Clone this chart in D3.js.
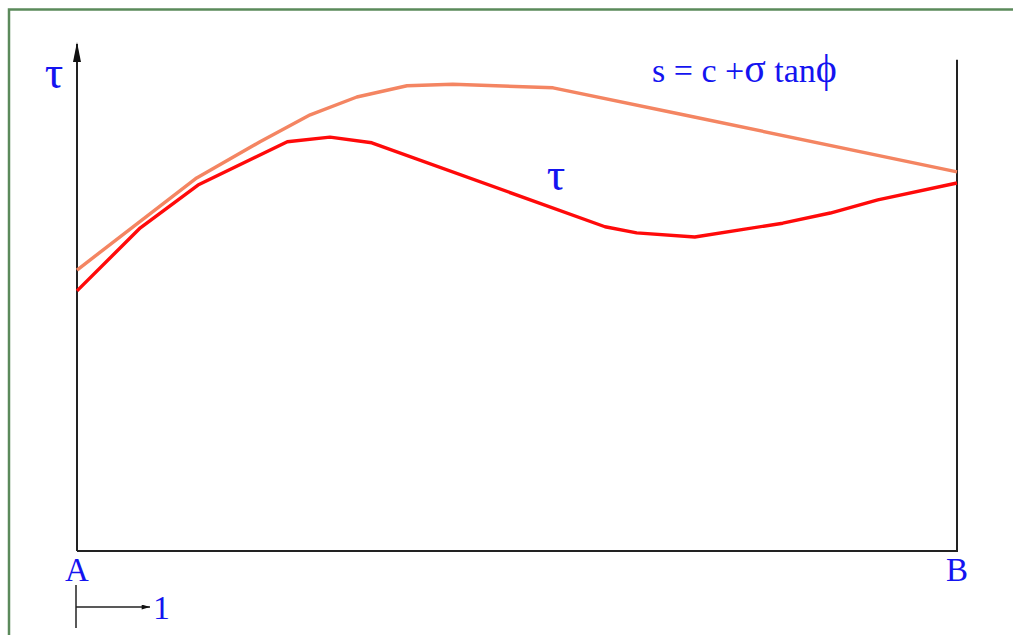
<!DOCTYPE html>
<html>
<head>
<meta charset="utf-8">
<script src="https://cdn.jsdelivr.net/npm/d3@7"></script>
<style>
  html, body { margin: 0; padding: 0; background: #fff; }
  svg { display: block; }
  text { font-family: "Liberation Serif", "DejaVu Serif", serif; fill: #1414f0; }
</style>
</head>
<body>
<svg id="chart" width="1013" height="635"></svg>
<script>
// Distance along the slip surface from A (0) to B (100)
const strengthX = [0, 13.6, 20.8, 26.5, 31.8, 37.5, 42.7, 54.1, 68.9, 100];
// Shear strength s = c + σ tanφ
const strengthY = [5.52, 7.33, 8.04, 8.57, 8.92, 9.14, 9.17, 9.10, 8.57, 7.45];

const stressX = [0, 7.2, 13.75, 23.9, 28.75, 33.5, 60.0, 63.6, 70.2, 80.2, 85.6, 91.0, 100];
// Mobilised shear stress τ
const stressY = [5.11, 6.35, 7.19, 8.04, 8.13, 8.02, 6.37, 6.25, 6.17, 6.44, 6.64, 6.90, 7.23];

const endLabels = ["A", "B"];
// strength label split into plain and Greek runs
const strengthParts = [
  { t: "s = c +", greek: false },
  { t: "σ", greek: true },
  { t: " tan", greek: false },
  { t: "ϕ", greek: true }
];
const stressLabel = "τ";
const axisLabel = "τ";
const unitLabel = "1";

const svg = d3.select("#chart");

const x = d3.scaleLinear().domain([0, 100]).range([77, 957]);
const y = d3.scaleLinear().domain([0, 10]).range([551, 42]);

// outer frame
svg.append("rect")
  .attr("x", 9).attr("y", 9.5)
  .attr("width", 1020).attr("height", 640)
  .attr("fill", "none")
  .attr("stroke", "#5b8a5b")
  .attr("stroke-width", 2.5);

const defs = svg.append("defs");
defs.append("marker")
  .attr("id", "axisArrow")
  .attr("viewBox", "0 0 20 8")
  .attr("refX", 18).attr("refY", 4)
  .attr("markerWidth", 20).attr("markerHeight", 8)
  .attr("markerUnits", "userSpaceOnUse")
  .attr("orient", "auto")
  .append("path").attr("d", "M0,0 L20,4 L0,8 Z").attr("fill", "#111");

defs.append("marker")
  .attr("id", "smallArrow")
  .attr("viewBox", "0 0 10 6")
  .attr("refX", 10).attr("refY", 3)
  .attr("markerWidth", 10).attr("markerHeight", 5)
  .attr("markerUnits", "userSpaceOnUse")
  .attr("orient", "auto")
  .append("path").attr("d", "M0,0 L10,3 L0,6 Z").attr("fill", "#111");

// axes: vertical τ axis with arrow, base line A-B, right boundary
svg.append("line")
  .attr("x1", x(0)).attr("y1", y(0))
  .attr("x2", x(0)).attr("y2", y(9.96))
  .attr("stroke", "#222").attr("stroke-width", 2)
  .attr("marker-end", "url(#axisArrow)");

svg.append("polyline")
  .attr("points", [[x(0), y(0)], [x(100), y(0)], [x(100), y(9.65)]].map(p => p.join(",")).join(" "))
  .attr("fill", "none").attr("stroke", "#222").attr("stroke-width", 2);

const line = d3.line().x(d => x(d[0])).y(d => y(d[1]));

svg.append("path")
  .datum(d3.zip(strengthX, strengthY))
  .attr("d", line)
  .attr("fill", "none")
  .attr("stroke", "#f48562")
  .attr("stroke-width", 3.4)
  .attr("stroke-linejoin", "round");

svg.append("path")
  .datum(d3.zip(stressX, stressY))
  .attr("d", line)
  .attr("fill", "none")
  .attr("stroke", "#ff0a0a")
  .attr("stroke-width", 3.4)
  .attr("stroke-linejoin", "round");

// labels
svg.append("text").attr("x", 54).attr("y", 88)
  .attr("text-anchor", "middle").attr("font-size", 46).text(axisLabel);

const sText = svg.append("text").attr("x", 652).attr("y", 82).attr("font-size", 34);
sText.selectAll("tspan")
  .data(strengthParts)
  .join("tspan")
  .attr("font-size", d => d.greek ? 40 : 34)
  .text(d => d.t);

svg.append("text").attr("x", 556).attr("y", 190)
  .attr("text-anchor", "middle").attr("font-size", 46).text(stressLabel);

svg.selectAll("text.end")
  .data(endLabels)
  .join("text")
  .attr("class", "end")
  .attr("x", (d, i) => x(i * 100))
  .attr("y", 581)
  .attr("text-anchor", "middle")
  .attr("font-size", 33)
  .text(d => d);

// unit length indicator
svg.append("line")
  .attr("x1", 76).attr("y1", 585).attr("x2", 76).attr("y2", 628)
  .attr("stroke", "#222").attr("stroke-width", 1.5);
svg.append("line")
  .attr("x1", 76).attr("y1", 607).attr("x2", 150).attr("y2", 607)
  .attr("stroke", "#222").attr("stroke-width", 1.5)
  .attr("marker-end", "url(#smallArrow)");
svg.append("text").attr("x", 153).attr("y", 619)
  .attr("font-size", 34).text(unitLabel);
</script>
</body>
</html>
